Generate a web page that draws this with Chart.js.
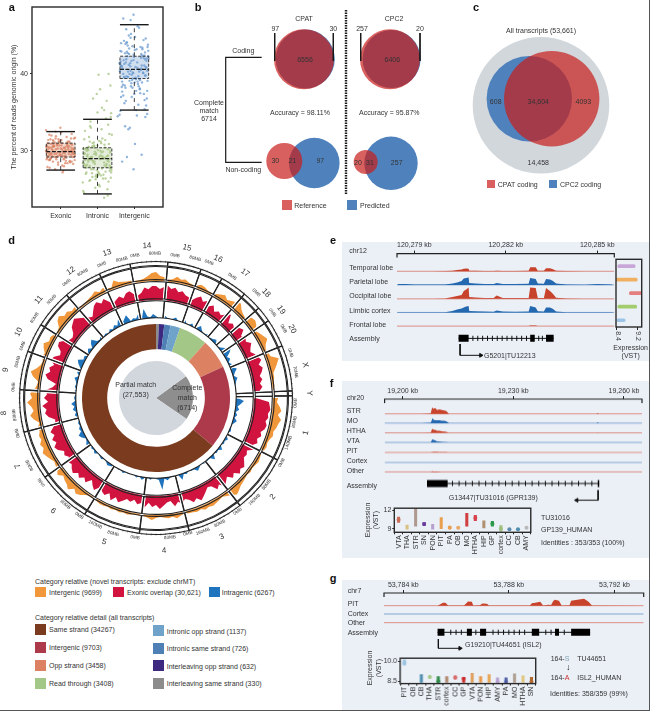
<!DOCTYPE html>
<html>
<head>
<meta charset="utf-8">
<script src="https://cdn.jsdelivr.net/npm/chart.js@4"></script>
<style>
html, body { margin: 0; padding: 0; background: #fff; overflow: hidden; }
#page { position: relative; width: 650px; height: 711px; overflow: hidden; font-family: "Liberation Sans", Arial, sans-serif; color: #333; }
#page canvas { position: absolute; }
.t { position: absolute; white-space: nowrap; line-height: 1; z-index: 5; }
.s { position: absolute; z-index: 5; }
</style>
</head>
<body>
<div id="page"></div>
<script>
// ---- panel a: reads origin ----
var boxCategories = ["Exonic", "Intronic", "Intergenic"];
var whiskLow = [27.5, 24.4, 35.3];
var boxLow = [29.2, 27.8, 39.4];
var boxMed = [29.9, 29, 40.6];
var boxHigh = [31, 30.4, 42.3];
var whiskHigh = [32.5, 34.1, 46.4];
var exonicX = [.63,.71,.84,.95,1.08,1.21,1.33,.66,.79,.9,1.03,1.16,1.29,1.38,.61,.74,.87,1.0,1.12,1.25,.69,.82,.93,1.06,1.19,1.31,.64,.77,.89,1.01,1.14,1.27,1.36,.72,.85,.97,1.1,1.23,1.34,.6,.76,.91,1.04,1.17,1.3,.67,.8,.94,1.07,1.2,1.32,.62,.75,.88,.99,1.13,1.26,1.39,.7,.83,.96,1.09,1.22,1.35,.65,.78,.92,1.05,1.18,1.28,.73,.86,.98,1.11,1.24,1.37,.68,.81,1.02,1.15,
    .64,1.22,.81,1.09,.73,1.33,.97,.61,1.17,.88,1.29,.69,1.02,.78,1.37,.92,1.13,.66,1.25,.84,1.06,.75,1.31,.95,.63,1.19,.87,1.35,.71,1.01,1.27,.8,1.11,.6,.93,1.21,.77,1.04,1.38,.67,.89,1.15,.72,1.3,.98,.62,1.24,.83,1.08,.7,1.34,.91,1.18,.79,1.03,.65,1.28,.86,1.12,.74];
var exonicY = [29.8,30.4,29.2,31.1,28.9,30.2,29.6,31.4,28.6,30.7,29.4,31.8,30.1,28.8,30.5,29.1,31.9,30.3,28.4,29.9,32.1,30.6,28.2,29.7,31.2,30.8,27.9,29.3,30.9,32.4,28.7,30,31.6,29.5,27.6,31.3,29,30.6,28.3,32.7,30.2,29.8,28.1,31,32.2,29.4,30.8,31.5,27.4,30.4,29.2,28.9,32,29.6,33,30.5,28.5,31.7,27.8,29.9,30.7,28,31.2,29.7,31,30.1,29.3,27.2,30.9,31.6,29,32.5,29.5,30.3,28.6,30,28.8,30.6,31.4,29.1,
    30.1,29.6,30.6,29.3,30.9,30.2,29.5,29.9,30.8,28.9,30.4,29.7,30.7,31,29.2,30.3,29.4,30.5,28.7,31.1,30,29.6,29.8,31.2,29.1,30.6,30.2,30.3,28.8,29.4,30.9,31.3,29.7,30,28.5,29.9,30.5,31,29.5,30.3,29.2,30.1,31.5,28.6,29.8,30.7,31.2,29.6,30.4,28.9,29.9,30.8,28.4,31.4,30.2,29.3,29.5,31.6,30,29.7];
var intronicX = [1.62,1.73,1.85,1.96,2.09,2.22,2.34,1.66,1.79,1.91,2.04,2.17,2.29,2.38,1.61,1.75,1.88,2.01,2.13,2.26,1.69,1.82,1.94,2.07,2.2,2.32,1.64,1.78,1.9,2.02,2.15,2.28,2.36,1.72,1.86,1.98,2.11,2.24,2.35,1.6,1.77,1.92,2.05,2.18,2.31,1.68,1.81,1.95,2.08,2.21,2.33,1.63,1.76,1.89,2,2.14,2.27,2.39,1.71,1.84,1.97,2.1,2.23,2.37,1.65,1.8,1.93,2.06,2.19,2.3,2.03,2.3,2.12,1.98,2.35,2.25,1.88,2.37,2.07,2.18,
    1.65,2.21,1.83,2.08,1.74,2.33,1.96,1.62,2.16,1.89,2.29,1.7,2.01,1.78,2.36,1.93,2.12,1.67,2.25,1.85,2.05,1.76,2.31,1.95,1.63,2.19,1.87,2.35,1.72,2,2.27,1.8,2.11,1.61,1.92,2.22,1.77,2.04,2.38,1.68,1.9,2.15,1.73,2.3,1.98,1.64,2.24,1.82,2.09,1.71,2.34,1.91,2.18,1.79,2.03,1.66,2.28,1.86,2.13,1.75];
var intronicY = [28.4,30.2,27.1,29.5,31.2,26.4,29.8,32.6,28,30.7,25.6,29,33.4,27.5,24.8,30.1,28.7,26.8,31.6,29.3,27.8,33,25.2,28.9,30.4,32.2,29.6,26.1,31.1,27.3,29.9,24.2,34.4,28.2,30.6,26.6,32.8,27.9,30,25.9,31.8,28.6,29.2,23.9,30.9,27,33.8,26.3,29.4,31.4,28.1,24.6,30.5,27.6,35,29.1,25,32.1,30.3,28.8,26.9,31,34.2,27.2,29.7,33.2,28.3,25.4,30.8,26,39.9,40,35.6,37.4,38.5,36.5,36.8,34.9,38,35.3,
    28.2,29.1,27.6,30,28.8,27.4,29.7,30.3,26.9,28.5,29.4,27.2,30.1,28.9,26.5,29.9,27.7,30.2,28.3,29.2,27,30.5,28.6,26.7,29.6,28.1,31,27.9,29.3,30.7,28.7,26.2,29.8,28.4,30.4,27.3,29,31.3,27.8,28,30.6,26.4,29.5,28.9,27.5,31.5,28.2,29.2,26.8,30,27.7,29.6,28.5,31.2,27.1,28.8,30.2,26.6,29.3,28.6];
var intergenicX = [2.62,2.74,2.86,2.97,3.1,3.22,3.33,2.67,2.8,2.92,3.05,3.18,3.3,3.38,2.61,2.76,2.89,3.02,3.14,3.27,2.7,2.83,2.95,3.08,3.21,3.34,2.65,2.79,2.91,3.03,3.16,3.29,3.37,2.73,2.87,2.99,3.12,3.25,3.36,2.6,2.78,2.93,3.06,3.19,3.32,2.69,2.82,2.96,3.09,3.2,3.35,2.64,2.77,2.9,3.01,3.15,3.28,3.39,2.72,2.85,2.98,3.11,3.24,3.31,2.66,2.81,2.94,3.07,3.17,3.26,2.7,2.75,2.98,3.35,2.62,2.9,3.13,2.55,2.6,2.84,2.67,2.8,2.98,3.02,3.2,3.3,2.88,3.05,
    2.65,3.21,2.83,3.08,2.74,3.33,2.96,2.62,3.16,2.89,3.29,2.7,3.01,2.78,3.36,2.93,3.12,2.67,3.25,2.85,3.05,2.76,3.31,2.95,2.63,3.19,2.87,3.35,2.72,3,3.27,2.8,3.11,2.61,2.92,3.22,2.77,3.04,3.38,2.68,2.9,3.15,2.73,3.3,2.98,2.64,3.24,2.82,3.09,2.71,3.34,2.91,3.18,2.79,3.03,2.66,3.28,2.86,3.13,2.75];
var intergenicY = [41.2,39.5,42.6,40.1,38.7,43.4,40.8,39,44.1,41.7,37.8,42.1,39.8,43,40.5,38.2,41,44.8,39.3,42.4,37.2,40.3,43.6,41.5,38.9,36.8,42.9,39.7,45.2,40.9,37.5,41.9,43.8,36.2,40,42.2,38.4,44.4,39.1,41.4,45.8,37,43.2,40.7,35.9,38.6,42.7,39.4,46.2,41.1,37.8,44,36.5,40.4,43.1,38,35.4,42,39.6,45,41.8,36,40.2,44.6,38.3,42.3,39.2,34.6,43.5,37.4,47.2,33.2,47.7,34.8,35.2,47,46,34.5,34.7,32.8,28.6,29.2,27.6,30.9,29.5,34.4,33,35.3,
    41,42.4,39.6,40.8,38.5,41.7,40.2,43,39.2,41.4,42.8,40,38.9,41.9,43.5,39.9,40.6,37.7,42.1,41.2,39.4,43.9,40.9,38.2,41.6,42.6,39.1,40.4,44.3,37.4,41.1,42.9,39.7,40.3,38.8,43.2,41.5,39.3,42.3,40.7,44.7,38.1,41.3,39.8,42.5,37,40.1,43.7,39,41.8,42,38.4,40.5,44.1,39.5,41,36.6,43.3,40.3,42.7];

// ---- panel b, c: venn counts ----
var codingCPAT = [97, 6556, 30];
var codingCPC2 = [257, 6406, 20];
var noncodingCPAT = [30, 21, 97];
var noncodingCPC2 = [20, 31, 257];
var overlapC = [608, 34604, 4093, 14458];

// ---- panel d: circular tracks, one value per 2 degrees clockwise from the top ----
var chromNames = ["1","2","3","4","5","6","7","8","9","10","11","12","13","14","15","16","17","18","19","20","X","Y"];
var chromSizes = [28,25,24,21,24.5,23,21,18,16.5,12.5,16.5,16.5,13.5,16,14.3,9.6,11.5,8.4,6.7,12,19.5,2];
var orangeTrack = [9,5,4,2,3,6,4,5,3,2, 3,5,4,2,2,3,5,7,4,6, 8,10,6,4,3,8,9,7,3,5, 7,9,5,3,4,5,12,9,6,3, 3,2,2,1,3,5,4,7,9,6, 10,8,7,5,6,4,3,4,3,2, 3,4,3,2,3,2,3,4,5,7, 9,6,4,2,3,4,5,4,5,3, 4,3,3,2,3,5,3,4,3,2,
    3,5,3,2,2,1,2,3,2,3, 2,3,2,3,3,2,2,1,3,6, 8,5,10,7,6,4,8,5,4,3, 5,7,9,6,8,5,6,4,5,2, 7,10,6,8,12,7,9,5,3,2, 8,11,6,3,2,4,3,6,8,4, 5,3,2,3,8,10,6,7,4,5, 2,1,2,3,4,6,3,5,3,2, 8,5,4,3,3,2,2,3,5,8];
var redTrack = [14,11,13,15,12,14,10,12,9,8, 6,10,13,9,12,8,11,6,9,7, 11,14,6,9,7,11,13,7,10,8, 12,9,7,10,12,14,10,13,11,8, 10,7,9,6,3,2,15,16,17,15, 16,14,16,15,12,14,11,13,9,12, 7,9,8,11,14,12,15,10,13,8, 11,14,9,12,6,5,8,11,14,10, 13,9,7,11,8,12,6,7,10,13,
    9,11,7,12,8,10,6,9,7,10, 13,9,14,8,12,10,7,13,10,6, 12,9,13,10,14,12,9,11,7,10, 8,13,15,11,14,10,13,9,6,5, 11,14,12,16,10,14,11,13,6,3, 12,15,11,13,9,14,12,7,8,13, 14,10,6,5,7,12,14,16,13,10, 7,5,9,13,15,11,14,9,6,8, 10,7,11,12,8,6,8,13,11,14];
var blueTrack = [3,1,2,4,2,1,2,4,1,2, 5,2,1,4,1,2,6,3,1,2, 4,2,3,5,2,1,3,6,11,8, 3,5,2,4,3,7,4,2,5,3, 2,1,1,1,2,3,9,6,3,5, 2,4,2,5,3,1,2,3,1,1, 4,2,3,1,5,2,3,1,6,2, 2,4,2,1,3,5,2,2,1,3, 2,7,1,3,1,2,4,2,13,3,
    2,1,3,1,2,4,1,3,1,1, 2,1,3,1,2,1,2,3,4,2, 1,3,2,1,4,2,3,1,5,3, 2,5,7,3,4,2,3,1,2,4, 2,5,3,6,2,3,2,5,1,3, 2,3,5,1,4,2,3,6,8,3, 4,2,3,5,2,6,8,3,2,4, 2,3,1,4,2,5,3,8,3,6, 9,2,4,3,7,2,11,3,2,5];
var detailNames = ["Interleaving same strand","Interleaving opp strand","Intronic same strand","Intronic opp strand","Read through","Opp strand","Intergenic","Same strand"];
var detailValues = [330, 632, 726, 1137, 3408, 3458, 9703, 34267];
var detailColors = ["#8c8c8c","#3d2a80","#4f80b5","#6fa3c9","#a2c786","#dd8163","#ac3a4a","#7a3b1e"];
var matchValues = [6714, 27553];

// ---- panel e ----
var eKb = [120278.45,120278.7,120279,120279.3,120279.6,120280,120280.25,120280.4,120280.55,120280.62,120280.7,120280.78,120280.8,120281,120281.3,120281.6,120281.7,120281.9,120282.3,120282.75,120282.8,120282.98,120283.05,120283.25,120283.32,120283.45,120283.55,120283.65,120284,120284.6,120285,120285.5];
var eTemporal = [0,0,0,0,0,.2,.6,1.2,1.8,2.6,2.8,2.6,.6,.5,.3,.2,.4,.2,.3,.4,4,4,.5,.4,3,3,2,.5,.2,.1,0,0];
var eParietal = [.8,.8,.4,.3,.3,.5,1.5,2.5,4,6.5,7,7.5,2,1.5,1,1,1.8,1,1,1.2,7,6,1.5,1.2,6,5.5,4,1.5,.5,.2,.8,.3];
var eOccipital = [.1,.1,.1,.2,.2,.3,2,3,4,8,9.5,11.5,2,1.5,1,.8,3.5,1,.8,1,11.5,11,1,1,11,8,5,1.2,.3,.2,.1,.1];
var eLimbic = [.2,.2,.2,.2,.2,.3,1.5,3,4,5,6,6.5,1.5,1.2,1,.8,2,1,.8,1,6.5,5,1.2,1,5,5,3.5,1,.3,.1,.1,.1];
var eFrontal = [.2,.2,.2,.2,.2,.2,.2,.2,.2,.2,.2,.2,.2,.2,.2,.2,.2,.2,.2,.2,.5,.5,.2,.2,.2,.2,.2,.2,.2,.2,.2,.2];
var eExons = [[120280.45,120280.78],[120282.8,120282.95],[120283.32,120283.57]];
var eIntronTicks = [120280.92,120281.08,120281.24,120281.4,120281.56,120281.72,120281.88,120282.04,120282.2,120282.36,120282.52,120282.68,120283.08,120283.2];
var eTicks = [120279, 120282, 120285];
var eViolinNames = ["Temporal lobe","Parietal lobe","Occipital lobe","Limbic cortex","Frontal lobe"];
var eViolinRange = [[8.44,9.1],[8.37,9.18],[8.88,9.35],[8.44,9.16],[8.4,8.72]];
var eViolinColors = ["#c9a6d8","#f0b060","#e37f7f","#a3cc6c","#9cc4e6"];

// ---- panel f ----
var fKb = [19195.2,19205,19207.6,19207.9,19208,19208.4,19208.8,19209.3,19210,19210.6,19211.2,19211.8,19212.3,19212.6,19252.6,19252.9,19253.2,19264.8];
var fSTR = [0,0,.5,5,6.5,5,6,4,4.5,4,3.5,3,1,0,0,1,0,0];
var fMO = [0,0,.3,3,5,3.5,3,3,3,2.5,2.5,2,.6,0,0,1,0,0];
var fHTHA = [0,0,.2,3,4,3,3,2,2,1.5,1.3,1,.3,0,0,.2,0,0];
var fVTA = [0,0,.2,2,3,2.5,2,1,.8,.5,.4,.3,.1,0,0,0,0,0];
var fPIT = [0,0,0,.3,.4,.5,.5,.5,.4,.3,.3,.2,0,0,0,0,0,0];
var fCortex = [0,0,0,0,0,0,0,0,0,0,0,0,0,0,0,0,0,0];
var fOther = [0,0,0,.4,.6,.5,.4,.3,.1,0,0,0,0,0,0,0,0,0];
var fExons = [[19206.6,19212.2],[19252.9,19253.3]];
var fIntronTicks = [19213.5,19215.3,19217.1,19218.9,19220.7,19222.5,19224.3,19226.1,19227.9,19229.7,19231.5,19233.3,19235.1,19236.9,19238.7,19240.5,19242.3,19244.1,19245.9,19247.7,19249.5,19251.3];
var fTicks = [19200, 19230, 19260];
var fRegions = ["VTA","THA","STR","SN","PON","PIT","PA","OB","MO","HTHA","HIP","GP","cortex","CC","CB","AMY"];
var fViolin = [[10,10.9],[8.9,9.6],[9.4,12.4],[9.5,10],[8.9,9.7],[9,10.8],[9,9.4],[9.05,9.25],[9.4,11.5],[10.3,11.2],[9.1,10.3],[9.4,10.2],[8.6,9.5],[8.8,9],[8.8,9],[9,9.3]];
var fBlob = [10.45,null,null,9.75,null,null,9.15,9.15,null,10.75,null,9.8,9,8.9,8.9,9.15];
var fColors = ["#c8705a","#d8c080","#b09a90","#6a3d9a","#b8a0d0","#e8a050","#e8a050","#e8a868","#d04040","#d84050","#b09070","#2a9a4a","#a0c080","#5a8ab0","#4f90b0","#b8b8b8"];

// ---- panel g ----
var gKb = [53783.3,53785.3,53785.44,53785.5,53785.6,53785.7,53786.3,53786.41,53786.45,53786.6,53786.65,53786.9,53787,53787.17,53787.25,53788.8,53788.87,53789,53789.19,53789.3,53789.5,53789.6,53789.69,53789.75,53789.9,53790,53790.3,53790.36,53790.6,53790.85,53791.02,53791.15,53793.1];
var gPIT = [0,0,2,3,3,.3,.2,3,4.3,4,.3,.5,2.3,2,.3,.3,2.5,3,4,.3,1,.8,5,6,5,.3,.4,5,6,7,4,.3,0];
var gCortex = gKb.map(function() { return 0; });
var gOther = gKb.map(function() { return 0; });
var gExons = [[53785.3,53785.56],[53786.41,53786.6],[53786.91,53787.14],[53788.87,53789.15],[53789.75,53789.9],[53790.36,53791.08]];
var gIntronTicks = [53785.8,53786,53786.2,53786.75,53787.4,53787.6,53787.8,53788,53788.2,53788.4,53788.6,53789.4,53789.6,53790.1];
var gTicks = [53784, 53788, 53792];
var gRegions = ["PIT","OB","CB","THA","STR","cortex","CC","GP","VTA","PON","HIP","AMY","PA","MO","HTHA","SN"];
var gViolin = [[9.7,10.1],null,[8.4,9],[8.75,8.9],[8.4,8.85],[8.4,8.85],[8.65,8.9],[8.4,8.8],[8.4,9.1],[8.4,8.85],[8.4,9],[8.4,8.75],[8.4,8.75],[8.4,9.05],[8.4,8.9],[8.4,8.8]];
var gBlob = [9.87,null,null,8.82,8.5,null,8.78,8.68,null,null,null,8.45,8.45,null,null,8.45];
var gColors = ["#9cc4e0","#999999","#4f8fb0","#a6c98a","#2f8a4a","#b08a70","#d86b6b","#cc2e2e","#e0a060","#e89a4a","#e6a85a","#b8a0d0","#5060a8","#b0a090","#e0c880","#b06a30"];

var FONT = '"Liberation Sans", Arial, sans-serif';
Chart.defaults.font.family = FONT;
Chart.defaults.font.size = 7;
Chart.defaults.color = "#333";
Chart.defaults.animation = false;
Chart.defaults.responsive = false;
Chart.defaults.layout.autoPadding = false;
Chart.defaults.plugins.legend.display = false;
Chart.defaults.plugins.tooltip.enabled = false;

var page = document.getElementById("page");

function addCanvas(left, top, w, h, bg) {
    var c = document.createElement("canvas");
    c.width = w; c.height = h;
    c.style.left = left + "px"; c.style.top = top + "px";
    c.style.width = w + "px"; c.style.height = h + "px";
    if (bg) c.style.background = bg;
    page.appendChild(c);
    return c;
}

// anchor: l/c/r horizontally, y is always the middle of the line
function txt(str, x, y, o) {
    o = o || {};
    var d = document.createElement("div");
    d.className = "t";
    d.innerHTML = str;
    var ax = o.a === "l" ? "0" : (o.a === "r" ? "-100%" : "-50%");
    d.style.left = x + "px"; d.style.top = y + "px";
    d.style.fontSize = (o.size || 7) + "px";
    if (o.bold) d.style.fontWeight = "bold";
    if (o.color) d.style.color = o.color;
    d.style.transform = "translate(" + ax + ",-50%) rotate(" + (o.rot || 0) + "deg)";
    page.appendChild(d);
}

function swatch(x, y, w, h, color) {
    var d = document.createElement("div");
    d.className = "s";
    d.style.cssText += "left:" + x + "px;top:" + y + "px;width:" + w + "px;height:" + h + "px;background:" + color;
    page.appendChild(d);
}

var frame = {
    id: "frame",
    afterDatasetsDraw: function(chart) {
        var a = chart.chartArea, c = chart.ctx;
        c.save();
        c.strokeStyle = "#2a2a2a";
        c.lineWidth = 1.4;
        c.strokeRect(a.left, a.top, a.right - a.left, a.bottom - a.top);
        c.restore();
    }
};

// ---- a ----
function zipPts(xs, ys) {
    return xs.map(function(x, i) { return { x: x, y: ys[i] }; });
}
function dotSet(xs, ys, color) {
    return { type: "scatter", data: zipPts(xs, ys), pointRadius: 1.2, pointBorderWidth: 0, pointBackgroundColor: color };
}
var boxTint = ["rgba(217,128,96,.3)", "rgba(165,196,130,.3)", "rgba(100,150,205,.3)"];
var aSets = [];
boxCategories.forEach(function(name, i) {
    var c = i + 1, w = 0.39;
    var capStyle = { type: "line", borderColor: "#1a1a1a", borderWidth: 1.4, pointRadius: 0, clip: false };
    aSets.push(Object.assign({ data: [{x:c-w,y:whiskHigh[i]},{x:c+w,y:whiskHigh[i]}] }, capStyle));
    aSets.push(Object.assign({ data: [{x:c-w,y:whiskLow[i]},{x:c+w,y:whiskLow[i]}] }, capStyle));
    aSets.push({ type: "line", data: [{x:c-w,y:boxMed[i]},{x:c+w,y:boxMed[i]}], borderColor: "#1a1a1a", borderWidth: 1.2, borderDash: [4,1.5], pointRadius: 0 });
    aSets.push({ type: "line", data: [{x:c-w,y:boxLow[i]},{x:c+w,y:boxLow[i]},{x:c+w,y:boxHigh[i]},{x:c-w,y:boxHigh[i]},{x:c-w,y:boxLow[i]}], borderColor: "#2a2a2a", borderWidth: 0.9, borderDash: [3,1.5], pointRadius: 0, fill: "shape", backgroundColor: boxTint[i] });
    aSets.push({ type: "line", data: [{x:c,y:whiskLow[i]},{x:c,y:boxLow[i]}], borderColor: "#2a2a2a", borderWidth: 0.9, borderDash: [4,4], pointRadius: 0 });
    aSets.push({ type: "line", data: [{x:c,y:boxHigh[i]},{x:c,y:whiskHigh[i]}], borderColor: "#2a2a2a", borderWidth: 0.9, borderDash: [4,4], pointRadius: 0 });
});
aSets.push(dotSet(exonicX, exonicY, "rgba(217,128,96,.7)"));
aSets.push(dotSet(intronicX, intronicY, "rgba(165,196,130,.75)"));
aSets.push(dotSet(intergenicX, intergenicY, "rgba(100,150,205,.7)"));
new Chart(addCanvas(0, 0, 170, 225), {
    type: "scatter",
    data: { datasets: aSets },
    plugins: [frame],
    options: {
        layout: { padding: { right: 7, top: 7 } },
        scales: {
            x: {
                type: "linear", min: 0.22, max: 3.78,
                afterBuildTicks: function(s) { s.ticks = [1,2,3].map(function(v) { return { value: v }; }); },
                afterFit: function(s) { s.height = 18; },
                grid: { drawOnChartArea: false, tickLength: 2, tickColor: "#333" },
                border: { display: false },
                ticks: { padding: 3, autoSkip: false, maxRotation: 0, callback: function(v) { return boxCategories[v - 1]; } }
            },
            y: {
                type: "linear", min: 22.7, max: 48.7,
                afterBuildTicks: function(s) { s.ticks = [30,40].map(function(v) { return { value: v }; }); },
                afterFit: function(s) { s.width = 32; },
                grid: { drawOnChartArea: false, tickLength: 2, tickColor: "#333" },
                border: { display: false },
                ticks: { padding: 2 }
            }
        }
    }
});
txt("a", 11.7, 6.5, { size: 11, bold: true, color: "#111" });
txt("The percent of reads genomic origin (%)", 12.7, 107, { rot: -90 });

// ---- b, c: circles sit on a page sized scale ----
var RED = "rgba(200,28,26,.7)", BLUE = "#4f82bd", GREY = "#d2d7dc";
var LINE = "#1a1a1a";
function bub(x, y, r, color) {
    return { type: "bubble", data: [{ x: x, y: y, r: r }], backgroundColor: color, borderWidth: 0, clip: false };
}
function seg(pts, width, dash) {
    return { type: "line", data: pts.map(function(p) { return { x: p[0], y: p[1] }; }), borderColor: LINE, borderWidth: width, borderDash: dash || [], pointRadius: 0, clip: false };
}
new Chart(addCanvas(190, 0, 460, 225), {
    type: "bubble",
    data: { datasets: [
        seg([[274.7,33],[274.7,61]], 1), seg([[333.3,33],[333.3,61]], 1),
        seg([[360.7,33],[360.7,61]], 1), seg([[420,33],[420,61]], 1),
        seg([[261.7,57.3],[225.7,57.3],[225.7,162.3],[261.7,162.3]], 1.2),
        seg([[346,10],[346,195]], 2.4, [1.5,1]),
        bub(304, 59.3, 30, RED), bub(305.3, 59, 29.5, BLUE),
        bub(390, 59.3, 30, RED), bub(391.6, 59, 29, BLUE),
        bub(284.3, 161, 18, RED), bub(314.3, 163, 25.3, BLUE),
        bub(365.7, 162, 12, RED), bub(391, 163.3, 26.7, BLUE),
        bub(551.7, 98.7, 47.7, RED), bub(529.3, 98.7, 42.7, BLUE), bub(541, 105.3, 68.3, GREY)
    ] },
    options: {
        scales: {
            x: { type: "linear", display: false, min: 190, max: 650 },
            y: { type: "linear", display: false, min: 0, max: 225, reverse: true }
        }
    }
});
txt("b", 198, 6.5, { size: 11, bold: true, color: "#111" });
txt("CPAT", 304, 17.7); txt("CPC2", 394, 17.7);
txt(codingCPAT[0], 275.3, 28); txt(codingCPAT[2], 333.3, 28);
txt(codingCPC2[0], 362, 28); txt(codingCPC2[2], 420, 28);
txt("Coding", 243.3, 50); txt("Non-coding", 243.3, 169.3);
txt("Complete", 209, 101.7); txt("match", 209, 110); txt("6714", 209, 117.7);
txt("Accuracy = 98.11%", 300, 111.7); txt("Accuracy = 95.87%", 389.3, 111.7);
txt(codingCPAT[1], 305, 59.3); txt(codingCPC2[1], 392.3, 59.3);
txt(noncodingCPAT[0], 275.3, 160.3); txt(noncodingCPAT[1], 292.3, 160.3); txt(noncodingCPAT[2], 320.3, 160.3);
txt(noncodingCPC2[0], 358, 161.7); txt(noncodingCPC2[1], 370, 161.7); txt(noncodingCPC2[2], 396.7, 161.7);
swatch(281.7, 200, 10, 10, "#d9605f"); txt("Reference", 294.3, 204.7, { a: "l" });
swatch(346.7, 200, 10, 10, BLUE); txt("Predicted", 360, 204.7, { a: "l" });

txt("c", 476, 7, { size: 11, bold: true, color: "#111" });
txt("All transcripts (53,661)", 541, 30);
function comma(n) { return n.toLocaleString("en-US"); }
txt(overlapC[0], 495.7, 100.7); txt(comma(overlapC[1]), 538.3, 100.7);
txt(overlapC[2], 583.3, 100.7); txt(comma(overlapC[3]), 538.3, 161.7);
swatch(486.7, 179.7, 8, 8, "#d9605f"); txt("CPAT coding", 497.7, 183.7, { a: "l" });
swatch(549, 179.7, 8, 8, BLUE); txt("CPC2 coding", 560, 183.7, { a: "l" });

// ---- d: radar carries the signal, doughnut rings carry the chromosome frames ----
var CX = 155.8, CY = 398.3;
function track(vals, base, color) {
    return { data: vals.map(function(v) { return base + v; }), fill: { value: base }, backgroundColor: color, borderWidth: 0, pointRadius: 0, tension: 0 };
}
new Chart(addCanvas(CX - 140, CY - 140, 280, 280), {
    type: "radar",
    data: {
        labels: orangeTrack.map(function(v, i) { return i * 2; }),
        datasets: [track(orangeTrack, 117, "#f0973c"), track(redTrack, 98, "#d1143f"), track(blueTrack, 79, "#1f74bd")]
    },
    options: {
        scales: { r: {
            min: 0, max: 140, startAngle: 0,
            grid: { display: false }, angleLines: { display: false },
            pointLabels: { display: false }, ticks: { display: false }
        } }
    }
});
// white spokes keep the signal out of the gaps between chromosomes
new Chart(addCanvas(CX - 139, CY - 139, 278, 278), {
    type: "doughnut",
    data: { labels: chromNames, datasets: [{ data: chromSizes, backgroundColor: "rgba(0,0,0,0)", borderColor: "#fff", borderWidth: 3.5 }] },
    options: { rotation: 89, cutout: "58%", layout: { padding: 2 } }
});
function ring(weight) {
    return { data: chromSizes, weight: weight, backgroundColor: "rgba(0,0,0,0)", borderColor: "#222", borderWidth: 1.1 };
}
function ringGap(weight) {
    return { data: chromSizes, weight: weight, backgroundColor: "rgba(0,0,0,0)", borderWidth: 0 };
}
var outerTicks = {
    id: "outerTicks",
    afterDatasetsDraw: function(chart) {
        var c = chart.ctx, a = chart.chartArea;
        var x0 = (a.left + a.right) / 2, y0 = (a.top + a.bottom) / 2;
        c.save();
        c.strokeStyle = "#333"; c.lineWidth = 0.5;
        for (var d = 0; d < 360; d += 2) {
            var t = (d - 90) * Math.PI / 180;
            c.beginPath();
            c.moveTo(x0 + 135.5 * Math.cos(t), y0 + 135.5 * Math.sin(t));
            c.lineTo(x0 + 137.5 * Math.cos(t), y0 + 137.5 * Math.sin(t));
            c.stroke();
        }
        c.restore();
    }
};
new Chart(addCanvas(CX - 139, CY - 139, 278, 278), {
    type: "doughnut",
    data: { labels: chromNames, datasets: [ring(4), ringGap(1), ring(13), ringGap(2), ring(17), ringGap(2), ring(17)] },
    plugins: [outerTicks],
    options: { rotation: 89, cutout: "58.5%", spacing: 2, layout: { padding: 2 } }
});
new Chart(addCanvas(CX - 75, CY - 75, 150, 150), {
    type: "doughnut",
    data: { labels: detailNames, datasets: [{ data: detailValues, backgroundColor: detailColors, borderWidth: 0 }] },
    options: { rotation: 0, cutout: "66%", layout: { padding: 1 } }
});
new Chart(addCanvas(CX - 38, CY - 38, 76, 76), {
    type: "pie",
    data: { labels: ["Complete match", "Partial match"], datasets: [{ data: matchValues, backgroundColor: ["#8e8e8e", "#d2d7de"], borderWidth: 0 }] },
    options: { rotation: 54, layout: { padding: 1 } }
});
txt("d", 11.7, 240, { size: 11, bold: true, color: "#111" });
txt("Partial match", 135.7, 384); txt("(27,553)", 135.7, 394);
txt("Complete", 187.3, 387); txt("match", 187.3, 397); txt("(6714)", 187.3, 407);

// labels run along the circle, the lower part is turned to stay readable
var zoomCX = 467, zoomCY = 505;
function alongCircle(str, zx, zy, size) {
    var ang = Math.atan2(zx - zoomCX, zoomCY - zy) * 180 / Math.PI;
    if (ang < 0) ang += 360;
    var rot = (ang > 90 && ang < 232) ? ang - 180 : ang;
    txt(str, zx / 3, 230 + zy / 3, { size: size, rot: rot });
}
var chromLabelAt = [[917,610],[820,800],[667,920],[493,962],[313,935],[158,843],[55,707],[12,550],[18,420],[57,305],[118,210],[212,122],[322,70],[440,47],[562,55],[655,87],[735,130],[797,188],[843,240],[875,297],[915,405],[928,488]];
chromNames.forEach(function(n, i) { alongCircle(n, chromLabelAt[i][0], chromLabelAt[i][1], 8); });
var mbLabels = [
    ["0MB",405,78],["80MB",465,72],["0MB",525,77],["80MB",585,88],["0MB",628,100],["0MB",697,140],["0MB",768,190],
    ["0MB",815,250],["0MB",850,298],["0MB",870,368],["70MB",885,425],["0MB",888,520],["80MB",885,575],["140MB",868,640],
    ["0MB",845,700],["80MB",802,765],["160MB",765,810],["0MB",715,845],["80MB",660,882],["160MB",610,905],["0MB",565,912],
    ["80MB",510,925],["0MB",405,925],["80MB",340,912],["160MB",285,885],["0MB",237,858],["80MB",195,825],["0MB",125,755],
    ["80MB",90,705],["0MB",55,610],["80MB",45,555],["0MB",42,470],["80MB",53,395],["0MB",70,348],["80MB",105,265],
    ["80MB",155,210],["0MB",200,160],["80MB",250,130],["0MB",305,105],["80MB",365,90]
];
mbLabels.forEach(function(m) { alongCircle(m[0], m[1], m[2], 4.6); });

// legends of d
txt("Category relative (novel transcripts: exclude chrMT)", 35, 580.7, { a: "l" });
swatch(35, 587.3, 11, 10, "#f0973c"); txt("Intergenic (9699)", 49, 591.7, { a: "l" });
swatch(113.3, 587.3, 11, 10, "#d1143f"); txt("Exonic overlap (30,621)", 127, 591.7, { a: "l" });
swatch(209, 587.3, 11, 10, "#1f74bd"); txt("Intragenic (6267)", 221.7, 591.7, { a: "l" });
txt("Category relative detail (all transcripts)", 35, 617.3, { a: "l" });
var detailRows = [[7,624],[6,641.5],[5,659.5],[4,677.5]];
detailRows.forEach(function(r) {
    swatch(35, r[1], 11, 11, detailColors[r[0]]);
    txt(detailNames[r[0]] + " (" + detailValues[r[0]] + ")", 49, r[1] + 5, { a: "l" });
});
var detailRows2 = [[3,625],[2,642.5],[1,660],[0,677.5]];
detailRows2.forEach(function(r) {
    swatch(153.3, r[1], 11, 11, detailColors[r[0]]);
    txt(detailNames[r[0]] + " (" + detailValues[r[0]] + ")", 166.7, r[1] + 5.5, { a: "l" });
});

// ---- e, f, g: genome browser rows ----
var RED_FILL = "#c8432b", BLUE_FILL = "#2468b0", RED_LINE = "#dc8e84", BLUE_LINE = "#84a7d0";
var PANEL_BG = "#ebf0f7";
function trackPanel(p) {
    var sets = [];
    var ey = p.geneY;
    var exonPts = [];
    p.exons.forEach(function(e) {
        exonPts.push({ x: e[0], y: ey }, { x: e[1], y: ey }, { x: NaN, y: NaN });
    });
    sets.push({ data: exonPts, borderColor: "#000", borderWidth: 7, borderCapStyle: "butt", pointRadius: 0, spanGaps: false });
    sets.push({ data: p.intronTicks.map(function(k) { return { x: k, y: ey }; }), showLine: false, pointStyle: "line", rotation: 90, pointRadius: 2.6, pointBorderWidth: 1, pointBorderColor: "#111" });
    sets.push({ data: [{ x: p.exons[0][0], y: ey }, { x: p.exons[p.exons.length - 1][1], y: ey }], borderColor: "#111", borderWidth: 1, pointRadius: 0 });
    sets.push({ data: p.arrow, borderColor: "#111", borderWidth: 1, pointRadius: [0, 0, 2.2], pointStyle: "triangle", rotation: p.arrowRot, pointBackgroundColor: "#111", pointBorderColor: "#111" });
    p.rows.forEach(function(r, i) {
        var isRed = r.red;
        sets.push({ data: p.kb.map(function(k, j) { return { x: k, y: r.base - r.vals[j] }; }), fill: { value: r.base }, backgroundColor: isRed ? RED_FILL : BLUE_FILL, borderWidth: 0, pointRadius: 0 });
        sets.push({ data: [{ x: p.min, y: r.base }, { x: p.max, y: r.base }], borderColor: isRed ? RED_LINE : BLUE_LINE, borderWidth: 1, pointRadius: 0 });
    });
    var by = p.bracketY;
    sets.push({ data: [{ x: p.min, y: by + 4 }, { x: p.min, y: by }, { x: p.max, y: by }, { x: p.max, y: by + 4 }], borderColor: "#222", borderWidth: 1.2, pointRadius: 0, clip: false });
    new Chart(addCanvas(p.left, p.top, 650 - p.left, p.bottom - p.top, PANEL_BG), {
        type: "line",
        data: { datasets: sets },
        options: {
            layout: { padding: { left: p.padL, right: p.padR } },
            scales: {
                x: {
                    type: "linear", position: "top", min: p.min, max: p.max,
                    afterBuildTicks: function(s) { s.ticks = p.ticks.map(function(v) { return { value: v }; }); },
                    afterFit: function(s) { s.height = by - p.top; },
                    grid: { drawOnChartArea: false, tickLength: 3, tickColor: "#222" },
                    border: { display: false },
                    ticks: { padding: 1, maxRotation: 0, autoSkip: false, color: "#333", callback: function(v) { return comma(v) + " kb"; } }
                },
                y: { type: "linear", display: false, min: by, max: p.bottom, reverse: true }
            }
        }
    });
}

trackPanel({
    left: 341.7, top: 241.7, bottom: 361, padL: 55, padR: 35.7, bracketY: 253.3,
    min: 120278.43, max: 120285.56, ticks: eTicks, kb: eKb,
    rows: [
        { vals: eTemporal, base: 271, red: true },
        { vals: eParietal, base: 284.7, red: false },
        { vals: eOccipital, base: 298.7, red: true },
        { vals: eLimbic, base: 312.3, red: false },
        { vals: eFrontal, base: 326, red: true }
    ],
    exons: eExons, intronTicks: eIntronTicks, geneY: 338.3,
    arrow: [{ x: 120280.5, y: 344 }, { x: 120280.5, y: 355.3 }, { x: 120281.18, y: 355.3 }], arrowRot: 90
});
txt("e", 333, 240, { size: 11, bold: true, color: "#111" });
txt("chr12", 349.3, 250, { a: "l" });
eViolinNames.forEach(function(n, i) { txt(n, 349.3, [267.3, 281.3, 295.3, 310, 324][i], { a: "l" }); });
txt("Assembly", 349.3, 338.3, { a: "l" });
txt("G5201|TU12213", 484, 355.3, { a: "l" });
new Chart(addCanvas(612, 256, 34, 76), {
    type: "bar",
    data: { labels: eViolinNames, datasets: [{ data: eViolinRange, backgroundColor: eViolinColors, barThickness: 3, borderSkipped: false, borderRadius: 1.5 }] },
    plugins: [frame],
    options: {
        indexAxis: "y",
        layout: { padding: { left: 4, right: 4.3, top: 3.3 } },
        scales: {
            x: {
                min: 8.37, max: 9.35,
                afterBuildTicks: function(s) { s.ticks = [8.4, 9.2].map(function(v) { return { value: v }; }); },
                afterFit: function(s) { s.height = 5; },
                grid: { drawOnChartArea: false, tickLength: 3, tickColor: "#222" },
                border: { display: false },
                ticks: { display: false }
            },
            y: { display: false }
        }
    }
});
txt("8.4", 618.3, 336, { rot: 90 }); txt("9.2", 637.7, 336, { rot: 90 });
txt("Expression", 630.7, 347); txt("(VST)", 630.7, 355);

trackPanel({
    left: 341.7, top: 381, bottom: 557.7, padL: 42.6, padR: 8, bracketY: 399,
    min: 19195.1, max: 19264.9, ticks: fTicks, kb: fKb,
    rows: [
        { vals: fSTR, base: 413.7, red: true },
        { vals: fMO, base: 423, red: false },
        { vals: fHTHA, base: 432.7, red: true },
        { vals: fVTA, base: 442.3, red: false },
        { vals: fPIT, base: 452.3, red: true },
        { vals: fCortex, base: 462.3, red: false },
        { vals: fOther, base: 471.7, red: true }
    ],
    exons: fExons, intronTicks: fIntronTicks, geneY: 483.3,
    arrow: [{ x: 19253, y: 490 }, { x: 19253, y: 500 }, { x: 19247.2, y: 500 }], arrowRot: -90
});
txt("f", 331.7, 383, { size: 11, bold: true, color: "#111" });
txt("chr20", 346.7, 397.3, { a: "l" });
["STR", "MO", "HTHA", "VTA", "PIT", "Cortex", "Other"].forEach(function(n, i) {
    txt(n, 346.7, [410.3, 420.3, 430.3, 440.3, 450.3, 460.3, 470][i], { a: "l" });
});
txt("Assembly", 346.7, 485, { a: "l" });
txt("G13447|TU31016 (GPR139)", 493.3, 497);
txt("Expression", 366.7, 520, { rot: -90 }); txt("(VST)", 375, 520, { rot: -90 });
txt("TU31016", 541, 516.7, { a: "l" });
txt("GP139_HUMAN", 541, 529, { a: "l" });
txt("Identities : 353/353 (100%)", 541, 541.7, { a: "l" });

function violinChart(box, labels, ranges, blobs, colors, yMin, yMax, yTicks, tickFmt) {
    new Chart(addCanvas(box.left, box.top, box.w, box.h), {
        type: "bar",
        data: { labels: labels, datasets: [
            { type: "line", data: blobs, showLine: false, pointRadius: blobs.map(function(b) { return b === null ? 0 : 2; }), pointBackgroundColor: colors, pointBorderWidth: 0 },
            { data: ranges, backgroundColor: colors, barThickness: 2.4, borderSkipped: false }
        ] },
        plugins: [frame],
        options: {
            layout: { padding: { top: 3, right: 3 } },
            scales: {
                x: {
                    afterFit: function(s) { s.height = box.xH; },
                    grid: { drawOnChartArea: false, tickLength: 2, tickColor: "#222" },
                    border: { display: false },
                    ticks: { padding: 1, minRotation: 90, maxRotation: 90, autoSkip: false }
                },
                y: {
                    min: yMin, max: yMax,
                    afterBuildTicks: function(s) { s.ticks = yTicks.map(function(v) { return { value: v }; }); },
                    afterFit: function(s) { s.width = box.yW; },
                    grid: { drawOnChartArea: false, tickLength: 2, tickColor: "#222" },
                    border: { display: false },
                    ticks: { padding: 1, callback: tickFmt }
                }
            }
        }
    });
}
violinChart({ left: 374, top: 503, w: 162.3, h: 53, xH: 23.7, yW: 20.3 }, fRegions, fViolin, fBlob, fColors, 8.4, 12.35, [9, 12], function(v) { return v; });

trackPanel({
    left: 341.7, top: 580, bottom: 710, padL: 42, padR: 6.3, bracketY: 593,
    min: 53783.27, max: 53793.11, ticks: gTicks, kb: gKb,
    rows: [
        { vals: gPIT, base: 605.7, red: true },
        { vals: gCortex, base: 614, red: false },
        { vals: gOther, base: 622.7, red: true }
    ],
    exons: gExons, intronTicks: gIntronTicks, geneY: 632.3,
    arrow: [{ x: 53785.33, y: 639 }, { x: 53785.33, y: 648.3 }, { x: 53786.15, y: 648.3 }], arrowRot: 90
});
txt("g", 333, 578, { size: 11, bold: true, color: "#111" });
txt("chr7", 347.7, 590.3, { a: "l" });
txt("PIT", 347.7, 603.3, { a: "l" }); txt("Cortex", 347.7, 613.3, { a: "l" });
txt("Other", 347.7, 622.3, { a: "l" }); txt("Assembly", 347.7, 632, { a: "l" });
txt("G19210|TU44651 (ISL2)", 465, 644, { a: "l" });
txt("Expression", 369, 668, { rot: -90 }); txt("(VST)", 378.3, 668, { rot: -90 });
violinChart({ left: 375, top: 652.7, w: 165.7, h: 55, xH: 24.4, yW: 25 }, gRegions, gViolin, gBlob, gColors, 8.32, 10.23, [8.5, 10], function(v) { return v.toFixed(1); });
txt('164-<span style="color:#7fa0b0">S</span>', 550.7, 658, { a: "l" }); txt("TU44651", 577.3, 658.3, { a: "l" });
txt("↓", 568.3, 667, { size: 9, bold: true, color: "#111" });
txt('164-<span style="color:#cc2e2e">A</span>', 550.7, 677.3, { a: "l" }); txt("ISL2_HUMAN", 577.3, 677.3, { a: "l" });
txt("Identities: 358/359 (99%)", 550, 692.7, { a: "l" });

// dark edge of the figure, right and bottom
swatch(0, 710, 650, 1, "#555");
swatch(649, 0, 1, 711, "#555");
</script>
</body>
</html>
